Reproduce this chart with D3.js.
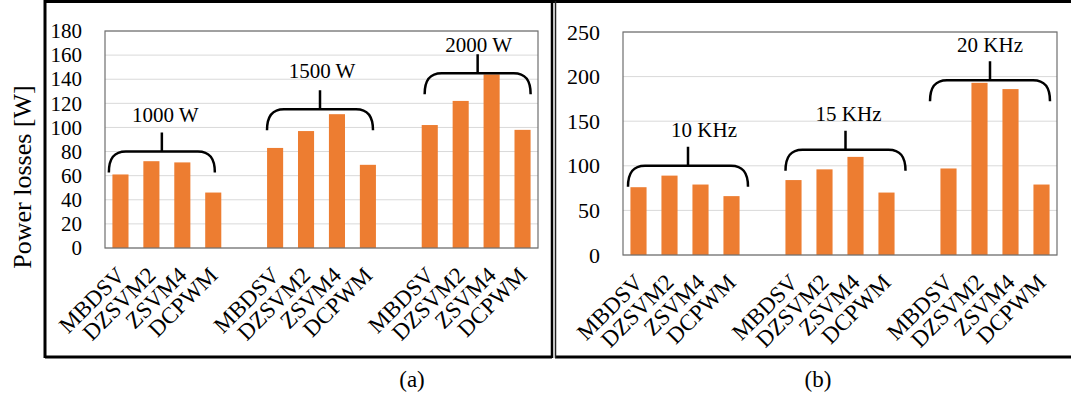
<!DOCTYPE html>
<html>
<head>
<meta charset="utf-8">
<script src="https://cdn.jsdelivr.net/npm/d3@7"></script>
<style>
  body { margin: 0; background: #fff; }
  svg { display: block; font-family: "Times New Roman", "Liberation Serif", serif; }
</style>
</head>
<body>
<svg id="viz"></svg>
<script>
var width = 1071;
var height = 395;

// chart data
var methods = ["MBDSV", "DZSVM2", "ZSVM4", "DCPWM"];
var powerGroups = ["1000 W", "1500 W", "2000 W"];
var freqGroups = ["10 KHz", "15 KHz", "20 KHz"];
var lossesByPower = [
    [61, 72, 71, 46],
    [83, 97, 111, 69],
    [102, 122, 144, 98]
];
var lossesByFreq = [
    [76, 89, 79, 66],
    [84, 96, 110, 70],
    [97, 193, 186, 79]
];
var ticksPower = [0, 20, 40, 60, 80, 100, 120, 140, 160, 180];
var ticksFreq = [0, 50, 100, 150, 200, 250];
// bracket height over each group, in W
var bracketPower = [80, 115, 145];
var bracketFreq = [100, 118, 196];

var svg = d3.select("#viz")
    .attr("width", width)
    .attr("height", height);

// panel frames
svg.append("rect").attr("x", 0).attr("y", 0).attr("width", width).attr("height", height).attr("fill", "#fff");
svg.append("path")
    .attr("d", "M45,358 L45,1.5 L1075,1.5 M45,357 L552,357 M555,357 L1075,357")
    .attr("fill", "none").attr("stroke", "#000").attr("stroke-width", 3);
svg.append("line").attr("x1", 552).attr("x2", 552).attr("y1", 1).attr("y2", 358)
    .attr("stroke", "#000").attr("stroke-width", 2.5);
svg.append("line").attr("x1", 555.5).attr("x2", 555.5).attr("y1", 1).attr("y2", 358)
    .attr("stroke", "#222").attr("stroke-width", 1.5);

// y axis title
svg.append("text")
    .attr("transform", "translate(31,177) rotate(-90)")
    .attr("text-anchor", "middle")
    .style("font-size", "26px")
    .attr("fill", "#000")
    .text("Power losses [W]");

svg.append("text").attr("x", 412).attr("y", 387).attr("text-anchor", "middle")
    .style("font-size", "23px").text("(a)");
svg.append("text").attr("x", 818).attr("y", 387).attr("text-anchor", "middle")
    .style("font-size", "23px").text("(b)");

drawPanel({
    left: 105, right: 538, top: 31, bottom: 248,
    max: 180, ticks: ticksPower, tickFont: 21,
    groups: powerGroups, values: lossesByPower, levels: bracketPower,
    halfWidth: 53,
    shift: [-5, -1.5, 1.5], labelShift: [3.5, 2, 1], labelRise: [30, 31, 21]
});

drawPanel({
    left: 623, right: 1057, top: 32, bottom: 255,
    max: 250, ticks: ticksFreq, tickFont: 22,
    groups: freqGroups, values: lossesByFreq, levels: bracketFreq,
    halfWidth: 60,
    shift: [3, 5.5, -5], labelShift: [16, 3, 0], labelRise: [29, 29, 28]
});

function drawPanel(p) {
    // 4 bars per group with one empty slot between groups
    var slots = [];
    p.groups.forEach(function (g, gi) {
        if (gi > 0) slots.push("gap" + gi);
        methods.forEach(function (m) { slots.push(g + "|" + m); });
    });

    var x = d3.scaleBand().domain(slots).range([p.left, p.right]).paddingInner(0.48).paddingOuter(0.24);
    var y = d3.scaleLinear().domain([0, p.max]).range([p.bottom, p.top]);

    var g = svg.append("g");

    // gridlines
    g.selectAll(".grid")
        .data(p.ticks)
        .enter().append("line")
        .attr("x1", p.left).attr("x2", p.right)
        .attr("y1", function (d) { return y(d); })
        .attr("y2", function (d) { return y(d); })
        .attr("stroke", "#d9d9d9").attr("stroke-width", 1);

    // y axis labels
    var yAxis = d3.axisLeft(y).tickValues(p.ticks).tickSize(0).tickPadding(23);
    var ax = g.append("g").attr("transform", "translate(" + p.left + ",0)").call(yAxis);
    ax.select(".domain").remove();
    ax.selectAll("text")
        .attr("fill", "#000")
        .style("font-size", p.tickFont + "px")
        .style("font-family", "\"Times New Roman\", \"Liberation Serif\", serif");

    // bars
    var bars = [];
    p.groups.forEach(function (grp, gi) {
        methods.forEach(function (m, mi) {
            bars.push({ key: grp + "|" + m, method: m, value: p.values[gi][mi] });
        });
    });

    g.selectAll(".bar")
        .data(bars)
        .enter().append("rect")
        .attr("x", function (d) { return x(d.key); })
        .attr("width", x.bandwidth())
        .attr("y", function (d) { return y(d.value); })
        .attr("height", function (d) { return y(0) - y(d.value); })
        .attr("fill", "#ed7d31");

    // plot area border
    g.append("rect")
        .attr("x", p.left).attr("y", p.top)
        .attr("width", p.right - p.left).attr("height", p.bottom - p.top)
        .attr("fill", "none").attr("stroke", "#6f6f6f").attr("stroke-width", 1.2);

    // category labels
    g.selectAll(".cat")
        .data(bars)
        .enter().append("text")
        .attr("transform", function (d) {
            return "translate(" + (x(d.key) + x.bandwidth() / 2) + "," + (p.bottom + 23) + ") rotate(-45)";
        })
        .attr("text-anchor", "end")
        .attr("dy", "0.35em")
        .style("font-size", "23px")
        .attr("fill", "#000")
        .text(function (d) { return d.method; });

    // brackets over the groups
    p.groups.forEach(function (grp, gi) {
        var first = x(grp + "|" + methods[0]);
        var last = x(grp + "|" + methods[methods.length - 1]) + x.bandwidth();
        var c = (first + last) / 2 + p.shift[gi];
        var yh = y(p.levels[gi]);
        var yb = yh + 21;
        var L = c - p.halfWidth, R = c + p.halfWidth;
        var d = "M" + L + "," + yb +
            " C" + L + "," + (yh + 7) + " " + (L + 5) + "," + yh + " " + (L + 17) + "," + yh +
            " L" + (R - 17) + "," + yh +
            " C" + (R - 5) + "," + yh + " " + R + "," + (yh + 7) + " " + R + "," + yb +
            " M" + c + "," + yh + " L" + c + "," + (yh - 19);
        g.append("path")
            .attr("d", d)
            .attr("fill", "none")
            .attr("stroke", "#000")
            .attr("stroke-width", 2.5);

        g.append("text")
            .attr("x", c + p.labelShift[gi])
            .attr("y", yh - p.labelRise[gi])
            .attr("text-anchor", "middle")
            .style("font-size", "21px")
            .attr("fill", "#000")
            .text(grp);
    });
}
</script>
</body>
</html>
